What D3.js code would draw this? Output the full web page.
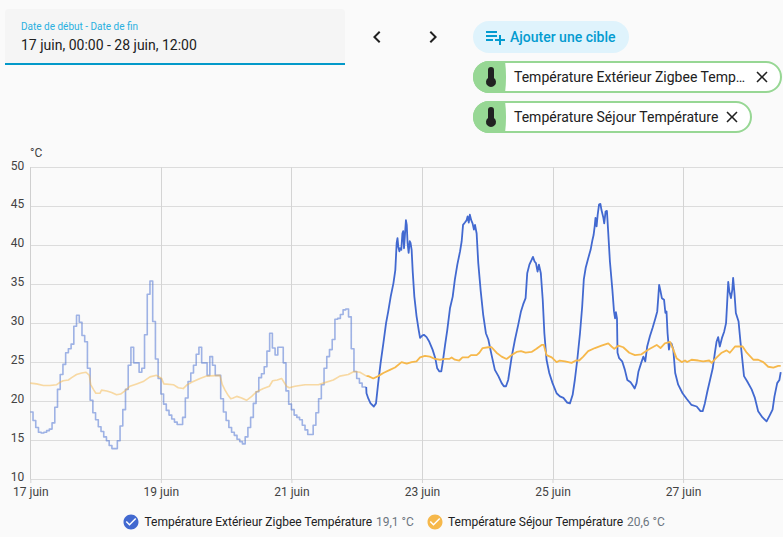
<!DOCTYPE html>
<html lang="fr">
<head>
<meta charset="utf-8">
<script src="https://cdn.jsdelivr.net/npm/d3@7"></script>
<style>
html,body{margin:0;padding:0;background:#fafafa;overflow:hidden}
svg{display:block;font-family:Roboto,sans-serif}
</style>
</head>
<body>
<svg id="view" width="783" height="537"></svg>
<script>
// Hourly long-term statistics, from 17 June 00:00, one value per hour
const outdoorHourly = [18.6,17.5,16.6,16.0,15.9,16.0,16.2,16.4,17.2,19.2,21.5,23.4,24.7,26.2,26.7,27.3,29.6,31.0,30.1,28.4,27.6,24.2,20.1,18.5,
17.6,16.7,16.1,15.4,14.9,14.3,13.9,13.9,14.9,16.8,18.9,21.5,24.6,26.9,24.9,24.9,23.7,24.2,28.5,33.7,35.4,30.2,25.4,22.9,
20.9,19.6,18.8,18.2,17.7,17.3,17.0,17.0,17.9,20.4,22.5,23.6,24.6,26.0,26.9,24.9,24.9,23.3,25.7,24.6,23.3,23.3,20.3,18.6,
17.5,16.6,16.0,15.6,15.1,14.8,14.5,15.4,16.6,17.9,19.7,21.2,23.0,23.5,24.4,26.4,28.7,26.8,25.9,26.9,26.9,24.9,21.3,19.6,
18.9,18.2,17.9,17.6,16.9,16.3,15.7,15.7,16.9,18.5,20.3,22.1,24.2,25.7,26.6,27.9,30.5,30.6,31.1,31.7,31.8,30.8,26.7,23.8,
22.9,22.3,21.8,21.8];

// Detailed sensor history: hours since 17 June 00:00 and readings in °C
const outdoorHours = [123.5,123.6,124.3,125.1,126.3,127.1,127.9,128.8,129.8,130.8,131.6,132.5,133.5,134.2,134.7,135.0,135.3,135.7,136.0,136.4,136.8,137.1,137.4,137.7,138.1,138.4,138.7,139.1,139.5,139.8,140.2,140.6,141.2,142.0,142.8,143.3,144.1,144.7,145.7,146.7,147.9,148.9,149.6,150.4,151.1,151.6,152.5,153.3,154.3,155.3,156.1,157.0,158.0,158.6,159.1,159.8,160.4,160.8,161.2,161.6,162.1,162.6,163.1,163.5,164.1,164.7,165.6,166.5,167.5,168.4,169.6,170.8,172.1,173.3,174.1,174.9,175.7,177.0,178.2,179.4,180.4,181.2,182.1,182.7,183.5,184.3,184.8,185.4,185.9,186.5,187.0,187.7,188.4,189.0,189.8,190.8,192.0,193.5,194.7,196.0,197.4,198.4,199.4,200.2,201.1,202.1,202.9,203.5,204.2,205.1,206.0,206.7,207.1,207.5,207.8,208.2,208.6,209.1,209.6,210.0,210.7,211.0,211.5,212.0,212.5,213.1,214.0,214.6,215.0,215.3,215.7,215.9,216.5,217.6,218.6,219.5,220.7,221.7,222.2,222.9,223.6,224.6,225.4,226.1,226.8,227.8,228.8,229.8,230.5,230.9,231.2,231.7,232.2,233.0,233.5,233.9,234.3,234.8,235.2,235.7,236.4,237.1,238.2,239.8,241.3,243.1,245.0,246.4,247.2,248.0,248.9,249.9,250.9,251.7,252.3,252.9,253.5,254.3,255.1,255.8,256.2,256.6,257.0,257.6,258.1,258.4,258.9,259.4,260.4,261.1,261.9,262.4,263.6,265.2,266.4,267.6,269.2,270.7,271.9,272.9,273.6,274.6,275.4,275.9];
const outdoorValues = [21.8,21.0,20.3,19.7,19.3,19.7,22.3,24.9,27.4,30.0,31.5,33.4,35.1,36.8,40.3,40.9,39.8,39.2,39.6,39.4,41.5,41.8,39.6,41.1,43.2,42.6,40.3,39.0,40.5,40.3,39.4,36.6,33.4,30.9,29.1,28.1,28.4,28.5,28.2,27.6,26.6,25.5,24.2,23.8,23.8,24.9,27.2,29.1,31.9,33.4,35.6,37.5,39.2,40.5,42.6,42.9,43.2,43.7,42.9,43.9,43.2,42.8,42.0,42.6,41.5,37.7,34.1,31.1,28.7,27.9,25.9,24.0,23.2,22.3,21.9,21.9,22.7,25.7,27.9,29.8,31.5,32.4,33.2,36.4,37.5,38.1,38.5,37.9,37.7,36.6,37.5,36.4,33.0,28.7,25.3,23.6,22.3,21.0,20.6,20.4,19.8,19.7,20.8,22.7,25.3,28.7,32.1,35.6,37.1,38.3,39.4,40.7,41.3,42.4,43.5,42.4,43.9,45.2,45.3,44.5,43.5,42.8,44.3,44.4,41.5,37.9,34.3,31.5,30.6,31.4,30.6,26.2,25.5,25.1,24.0,22.7,22.4,21.9,21.6,22.3,23.8,24.9,25.7,25.1,27.0,28.3,29.4,30.6,31.5,33.4,34.9,34.1,33.2,33.0,31.3,31.5,28.7,26.6,27.4,27.4,26.6,23.6,22.1,21.0,20.3,19.5,19.3,18.7,18.7,19.7,21.2,22.7,24.2,26.2,27.6,28.2,27.0,28.1,28.9,30.0,32.6,35.3,34.1,33.2,34.3,35.8,33.8,31.3,30.2,27.6,24.9,23.2,22.5,21.5,20.4,18.7,17.9,17.4,18.2,18.9,20.6,22.3,22.7,23.7];

const indoorStatHours = [0,2.3,4.8,7.2,9.7,10.9,12.1,14.0,15.2,17.0,18.9,20.5,21.7,22.2,23.2,24.1,25.6,26.2,28.1,29.9,31.7,33.2,34.8,36.6,39.1,41.5,44.0,46.4,48.3,49.1,52.6,54.4,56.2,57.7,59.3,62.4,64.8,69.7,70.6,71.6,72.8,73.7,74.6,75.9,77.7,79.5,81.4,83.2,85.7,87.9,89.1,90.8,92.4,94.2,95.2,97.3,101.0,105.9,107.7,111.4,113.8,116.9,119.0,121.2,123.6];
const indoorStatValues = [22.3,22.2,22.0,22.0,22.1,22.4,22.6,22.7,23.0,23.4,23.6,23.7,23.3,22.1,21.5,21.0,21.0,21.4,21.3,21.1,20.8,20.9,21.3,21.9,22.2,22.5,23.1,23.3,22.9,22.2,22.1,21.7,21.6,22.1,22.4,22.9,23.2,23.3,22.1,21.4,20.7,20.3,20.4,20.6,20.4,20.1,20.6,21.2,21.6,21.9,22.6,22.7,22.9,21.9,21.7,21.9,22.1,22.1,22.3,22.7,23.2,23.4,23.8,23.7,23.2];

const indoorHours = [123.6,124.3,126.1,127.9,129.8,132.2,134.1,136.5,138.4,140.2,142.0,143.3,145.1,146.9,148.8,150.6,152.5,154.0,154.9,156.1,157.7,158.9,161.0,162.0,164.1,165.1,166.3,168.4,169.6,171.4,173.3,175.1,177.0,178.8,180.4,182.1,184.3,186.1,188.0,188.8,189.8,191.7,193.5,194.7,196.6,199.0,200.6,201.8,203.3,205.1,207.6,210.0,212.5,213.7,214.7,216.2,218.0,220.2,222.3,224.7,226.3,227.8,230.3,231.7,233.3,235.2,236.4,237.6,239.5,240.7,241.5,243.1,245.6,247.4,249.6,250.5,252.1,254.2,256.0,257.2,259.1,261.9,263.4,265.8,267.6,269.5,271.3,273.2,275.0,275.9];
const indoorValues = [23.2,23.2,22.9,23.2,23.6,24.0,24.3,25.0,24.8,25.0,25.1,25.6,25.8,25.7,25.4,25.3,25.4,25.4,25.6,25.3,25.2,25.6,25.6,25.9,25.9,26.2,26.8,26.9,26.9,26.2,25.7,25.4,25.9,26.3,26.4,26.2,26.3,26.7,27.2,27.2,25.9,25.6,25.0,25.2,25.1,24.9,25.2,25.2,25.7,26.4,26.8,27.1,27.4,27.0,26.7,27.1,26.9,26.2,25.9,26.0,26.4,26.7,27.2,26.8,27.4,27.6,26.6,25.5,25.0,25.2,25.0,25.3,25.2,25.1,25.2,24.9,25.5,26.2,26.5,26.2,27.0,27.0,26.2,25.3,25.3,25.0,24.4,24.3,24.5,24.5];

const yTicks = [10,15,20,25,30,35,40,45,50];
const xTickDays = [0,2,4,6,8,10];
const colors = {outdoor:"#4269d0", indoor:"#f6b84b"};
const legendEntries = [
  {name:"Température Extérieur Zigbee Température", value:"19,1 °C", color:colors.outdoor, icon:131, text:144.5, val:376},
  {name:"Température Séjour Température", value:"20,6 °C", color:colors.indoor, icon:435, text:448, val:627}
];

const MDI = {
  left:"M15.41,16.58L10.83,12L15.41,7.41L14,6L8,12L14,18L15.41,16.58Z",
  right:"M8.59,16.58L13.17,12L8.59,7.41L10,6L16,12L10,18L8.59,16.58Z",
  add:"M3 16H10V14H3M18 14V10H16V14H12V16H16V20H18V16H22V14M14 6H3V8H14M14 10H3V12H14V10Z",
  close:"M19,6.41L17.59,5L12,10.59L6.41,5L5,6.41L10.59,12L5,17.59L6.41,19L12,13.41L17.59,19L19,17.59L13.41,12L19,6.41Z",
  thermo:"M15 13V5A3 3 0 0 0 9 5V13A5 5 0 1 0 15 13Z",
  check:"M12 2C6.5 2 2 6.5 2 12S6.5 22 12 22 22 17.5 22 12 17.5 2 12 2M10 17L5 12L6.41 10.59L10 14.17L17.59 6.58L19 8L10 17Z"
};

const svg = d3.select("#view");
const icon = (g, d, cx, cy, size, fill) => g.append("path").attr("d", d).attr("fill", fill)
  .attr("transform", `translate(${cx-size/2},${cy-size/2}) scale(${size/24})`);

// ---- date range field and navigation ----
const head = svg.append("g");
head.append("path").attr("d","M5,65V13a4,4 0 0 1 4,-4H341a4,4 0 0 1 4,4V65Z").attr("fill","#f5f5f5");
head.append("rect").attr("x",5).attr("y",63).attr("width",340).attr("height",2).attr("fill","#0399c9");
head.append("text").attr("x",21).attr("y",30).attr("font-size",10).attr("fill","#2bb0e0").text("Date de début - Date de fin");
head.append("text").attr("x",21).attr("y",50).attr("font-size",14).attr("fill","#212121").text("17 juin, 00:00 - 28 juin, 12:00");
icon(head, MDI.left, 377, 37, 24, "#212121");
icon(head, MDI.right, 433, 37, 24, "#212121");

// ---- target picker ----
head.append("rect").attr("x",473).attr("y",21).attr("width",156).attr("height",32).attr("rx",16).attr("fill","#dff3fc");
icon(head, MDI.add, 495, 37, 24, "#039bd0");
head.append("text").attr("x",510).attr("y",42).attr("font-size",14).attr("font-weight",500).attr("fill","#039bd0").text("Ajouter une cible");

const chips = [
  {y:61, w:309, label:"Température Extérieur Zigbee Temp…", closeX:762},
  {y:101, w:279, label:"Température Séjour Température", closeX:732}
];
chips.forEach(c => {
  const g = head.append("g");
  g.append("rect").attr("x",474).attr("y",c.y+1).attr("width",c.w-2).attr("height",30).attr("rx",15).attr("fill","#fff").attr("stroke","#97d794").attr("stroke-width",2);
  g.append("path").attr("d",`M489,${c.y}H505Q507,${c.y+16} 505,${c.y+32}H489A16,16 0 0 1 489,${c.y}Z`).attr("fill","#97d794");
  icon(g, MDI.thermo, 491, c.y+16, 24, "#212121");
  g.append("text").attr("x",514).attr("y",c.y+21).attr("font-size",14).attr("fill","#212121").text(c.label);
  icon(g, MDI.close, c.closeX, c.y+16, 19, "#212121");
});

// ---- chart ----
const t0 = Date.UTC(2023,5,17);
const hourToDate = h => new Date(t0 + h*3600e3);
const x = d3.scaleUtc().domain([hourToDate(0), hourToDate(276)]).range([30.3, 781]);
const y = d3.scaleLinear().domain([10,50]).range([479,167.2]);

const frLocale = d3.timeFormatLocale({dateTime:"%c",date:"%x",time:"%X",periods:["",""],
  days:["dimanche","lundi","mardi","mercredi","jeudi","vendredi","samedi"],shortDays:["dim","lun","mar","mer","jeu","ven","sam"],
  months:["janvier","février","mars","avril","mai","juin","juillet","août","septembre","octobre","novembre","décembre"],
  shortMonths:["janv","févr","mars","avr","mai","juin","juil","août","sept","oct","nov","déc"]});
const dayFmt = frLocale.utcFormat("%-d %B");

const yAxis = d3.axisLeft(y).tickValues(yTicks).tickSize(0).tickPadding(6);
const xAxis = d3.axisBottom(x).tickValues(xTickDays.map(d => hourToDate(d*24))).tickFormat(dayFmt).tickSize(4).tickPadding(4);

const grid = svg.append("g").attr("stroke","#dcdcdc").attr("stroke-width",1);
grid.selectAll("line.h").data(yTicks).join("line").attr("class","h")
  .attr("x1",x.range()[0]-0.3).attr("x2",783).attr("y1",d=>Math.round(y(d))+.5).attr("y2",d=>Math.round(y(d))+.5);
grid.selectAll("line.v").data(xTickDays).join("line").attr("class","v")
  .attr("x1",d=>Math.round(x(hourToDate(d*24)))+.5).attr("x2",d=>Math.round(x(hourToDate(d*24)))+.5)
  .attr("y1",y(50)).attr("y2",y(10)).attr("stroke",d=>d===0?"#cfcfcf":"#d4d4d4");

const gy = svg.append("g").attr("transform",`translate(${x.range()[0]},0)`).call(yAxis);
const gx = svg.append("g").attr("transform",`translate(0,${y(10)})`).call(xAxis);
[gy,gx].forEach(g => {
  g.select(".domain").remove();
  g.selectAll("text").attr("font-family","Roboto,sans-serif").attr("font-size",12).attr("fill","#424242");
  g.selectAll("line").attr("stroke","#d4d4d4");
});
gy.selectAll("text").attr("dy","0.15em");
svg.append("text").attr("x",30).attr("y",157).attr("font-size",12).attr("fill","#424242").text("°C");

const line = d3.line().x(d=>x(hourToDate(d[0]))).y(d=>y(d[1]));
const zipped = (hs,vs) => hs.map((h,i)=>[h,vs[i]]);
const plot = svg.append("g").attr("fill","none").attr("stroke-linejoin","round");

const outdoorStats = outdoorHourly.map((v,i)=>[i,v]).concat([[123.5,outdoorHourly[outdoorHourly.length-1]]]);
plot.append("path").attr("d",line.curve(d3.curveStepAfter)(outdoorStats)).attr("stroke",colors.outdoor).attr("stroke-opacity",.5).attr("stroke-width",1.6);
line.curve(d3.curveLinear);
plot.append("path").attr("d",line(zipped(indoorStatHours,indoorStatValues))).attr("stroke",colors.indoor).attr("stroke-opacity",.5).attr("stroke-width",1.6);
plot.append("path").attr("d",line(zipped(outdoorHours,outdoorValues))).attr("stroke",colors.outdoor).attr("stroke-width",1.8);
plot.append("path").attr("d",line(zipped(indoorHours,indoorValues))).attr("stroke",colors.indoor).attr("stroke-width",1.8);

// ---- legend ----
const lg = svg.append("g").attr("font-size",12);
legendEntries.forEach(e => {
  lg.append("circle").attr("cx",e.icon).attr("cy",522).attr("r",6).attr("fill","#fff");
  icon(lg, MDI.check, e.icon, 522, 18, e.color);
  lg.append("text").attr("x",e.text).attr("y",526).attr("fill","#212121").text(e.name);
  lg.append("text").attr("x",e.val).attr("y",526).attr("fill","#6d7680").text(e.value);
});
</script>
</body>
</html>
